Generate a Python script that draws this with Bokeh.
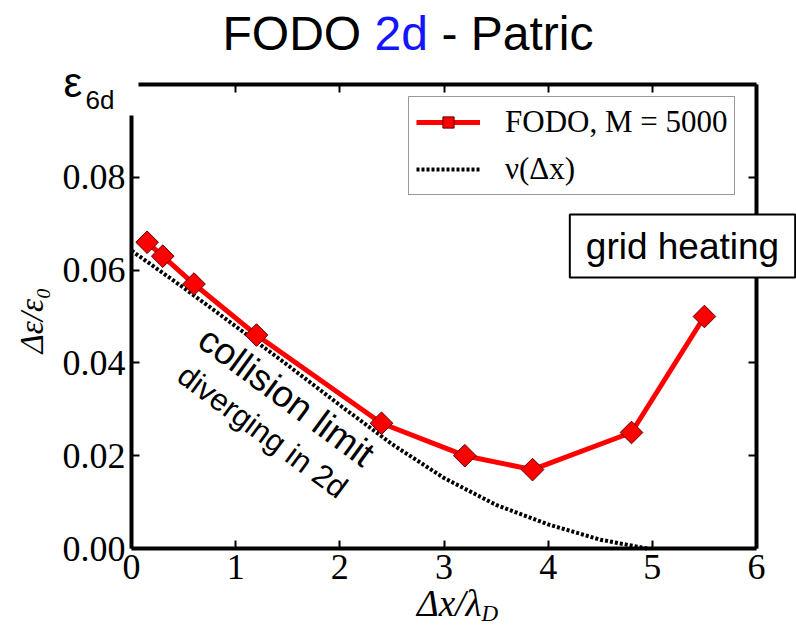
import math
from bokeh.plotting import figure
from bokeh.models import (Label, Legend, LegendItem, LinearAxis, FixedTicker,
                          PrintfTickFormatter, BoxAnnotation)
from bokeh.embed import file_html
from bokeh.resources import INLINE

# ---- data ----
dx_lambda = [0.15, 0.3, 0.6, 1.2, 2.4, 3.2, 3.85, 4.8, 5.5]
d_eps = [0.066, 0.063, 0.057, 0.046, 0.027, 0.020, 0.017, 0.025, 0.050]

nu_x = [0.0, 0.5, 1.0, 1.5, 2.0, 2.5, 3.0, 3.5, 4.0, 4.5, 4.95]
nu_y = [0.0642, 0.0562, 0.0479, 0.0395, 0.0309, 0.0225, 0.0152, 0.0094, 0.0052, 0.0019, 0.0]

x_ticks = [0, 1, 2, 3, 4, 5, 6]
y_ticks = [0.0, 0.02, 0.04, 0.06, 0.08]
x_axis_span = (0, 6)
y_axis_span = (0, 0.1)

series_label = "FODO, M = 5000"
curve_label = "ν(Δx)"

SERIF = "Liberation Serif"
SANS = "Liberation Sans"

# ---- layout: the frame fills the canvas; axes are pinned with fixed_location ----
W, H = 796, 628
FX0, FX1 = 131.0, 756.0      # pixel columns of x = 0 and x = 6
FY0, FY1 = 548.0, 84.0       # pixel rows of y = 0 and y = 0.1
sx = (FX1 - FX0) / (x_axis_span[1] - x_axis_span[0])
sy = (FY0 - FY1) / (y_axis_span[1] - y_axis_span[0])


def fx(px):
    return x_axis_span[0] + (px - FX0) / sx


def fy(py):
    return y_axis_span[0] + (FY0 - py) / sy


p = figure(width=W, height=H, x_range=(fx(0), fx(W)), y_range=(fy(H), fy(0)),
           output_backend="svg", toolbar_location=None, title_location=None,
           x_axis_location=None, y_axis_location=None,
           min_border_left=0, min_border_right=0, min_border_top=0, min_border_bottom=0)
p.outline_line_color = None
p.xgrid.visible = False
p.ygrid.visible = False
p.background_fill_color = "white"
p.border_fill_color = "white"

bottom_axis = LinearAxis(fixed_location=y_axis_span[0], bounds=x_axis_span)
top_axis = LinearAxis(fixed_location=y_axis_span[1], bounds=(fx(138), x_axis_span[1]))
left_axis = LinearAxis(fixed_location=x_axis_span[0], bounds=(y_axis_span[0], fy(115)))
right_axis = LinearAxis(fixed_location=x_axis_span[1], bounds=y_axis_span)
p.add_layout(bottom_axis, "below")
p.add_layout(top_axis, "above")
p.add_layout(left_axis, "left")
p.add_layout(right_axis, "right")

for ax in [bottom_axis, top_axis]:
    ax.ticker = FixedTicker(ticks=x_ticks)
for ax in [left_axis, right_axis]:
    ax.ticker = FixedTicker(ticks=y_ticks)
left_axis.formatter = PrintfTickFormatter(format="%.2f")

for ax in [bottom_axis, top_axis, left_axis, right_axis]:
    ax.axis_line_width = 4
    ax.axis_line_color = "black"
    ax.major_tick_in = 8
    ax.major_tick_out = 0
    ax.major_tick_line_width = 2
    ax.major_tick_line_color = "black"
    ax.minor_tick_line_color = None
    ax.major_label_text_font = SERIF
    ax.major_label_text_font_size = "36px"
    ax.major_label_text_color = "black"
    ax.major_label_standoff = 6

for ax in [top_axis, right_axis]:
    ax.major_label_text_color = None

# ---- data glyphs ----
nu_r = p.line(nu_x, nu_y, line_color="black", line_width=4, line_dash="3 2")
line_r = p.line(dx_lambda, d_eps, line_color="#ff0000", line_width=5)
pts_r = p.scatter(dx_lambda, d_eps, marker="square", size=16, angle=math.pi / 4,
                  fill_color="#ff0000", line_color="#5a0000", line_width=1)

legend = Legend(items=[LegendItem(label=series_label, renderers=[line_r, pts_r]),
                       LegendItem(label=curve_label, renderers=[nu_r])],
                location=(408, H - 195), padding=7, spacing=11,
                glyph_width=64, glyph_height=28, label_height=28, label_standoff=25,
                label_text_font=SERIF, label_text_font_size="31px", label_text_color="black",
                border_line_color="#333333", border_line_width=1.5,
                background_fill_color="white", background_fill_alpha=1.0)
p.add_layout(legend)

# white patch behind the corner label (the frame corner is hidden in the reference)
p.add_layout(BoxAnnotation(left=fx(58), right=fx(137), top=fy(72), bottom=fy(114),
                           fill_color="white", fill_alpha=1.0, line_color=None,
                           level="overlay"))


def add_text(px, py, text, font, size, color="black", align="left", angle=0.0,
             style="normal", level="annotation"):
    p.add_layout(Label(x=fx(px), y=fy(py), text=text, text_font=font, text_font_size=size,
                       text_font_style=style, text_color=color, text_align=align,
                       text_baseline="middle", angle=angle, level=level))


# ---- title (two colours) ----
add_text(222, 33, "FODO", SANS, "48px")
add_text(374, 33, "2d", SANS, "48px", color="#1414ff")
add_text(441, 33, "- Patric", SANS, "48px")

# ---- epsilon_6d corner label ----
add_text(63, 82, "ε", SANS, "42px", level="overlay")
add_text(85, 99, "6d", SANS, "26px", level="overlay")

# ---- axis titles ----
add_text(31, 320, "Δε/ε₀", SERIF, "33px", align="center", angle=math.pi / 2, style="italic")
add_text(481, 603, "Δx/λ", SERIF, "37px", align="right", style="italic")
add_text(481, 613, "D", SERIF, "23px", style="italic")

# ---- annotations ----
slope = -math.atan2(127, 172)
add_text(286, 396, "collision limit", SANS, "37px", align="center", angle=slope)
add_text(262, 431, "diverging in 2d", SANS, "31px", align="center", angle=slope)
p.add_layout(Label(x=fx(682), y=fy(245.5), text="grid heating", text_font=SANS,
                   text_font_size="37px", text_align="center", text_baseline="middle",
                   text_color="black",
                   background_fill_color="white", border_line_color="black",
                   border_line_width=2,
                   padding=dict(left=16, right=16, top=11, bottom=11)))

open("out.html", "w").write(file_html(p, INLINE))
